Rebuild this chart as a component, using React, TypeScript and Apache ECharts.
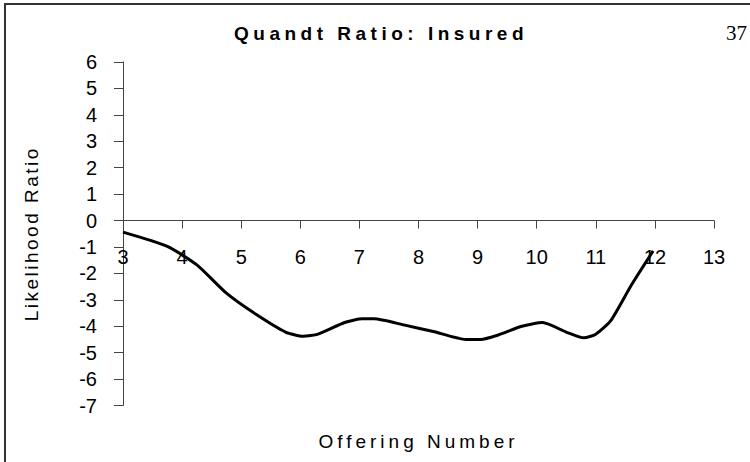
import React, { useEffect, useRef } from "react";
import * as echarts from "echarts";

const TITLE = "Quandt Ratio: Insured";
const PAGE_NUMBER = "37";
const X_NAME = "Offering Number";
const Y_NAME = "Likelihood Ratio";

const offeringNumbers = [3, 3.75, 4.25, 4.75, 5.25, 5.75, 6.05, 6.3, 6.75, 7.05, 7.25, 7.75, 8.25, 8.8, 9.05, 9.35, 9.75, 10.1, 10.5, 10.8, 11.0, 11.25, 11.6, 11.97];
const likelihoodRatios = [-0.44, -0.98, -1.68, -2.75, -3.55, -4.22, -4.38, -4.3, -3.86, -3.72, -3.72, -3.95, -4.2, -4.5, -4.5, -4.33, -4.0, -3.86, -4.22, -4.44, -4.3, -3.8, -2.45, -1.15];

const X_MIN = 3;
const X_MAX = 13;
const Y_MIN = -7;
const Y_MAX = 6;

const FONT = "'Liberation Sans', Arial, sans-serif";

export default function App() {
  const ref = useRef<HTMLDivElement>(null);

  useEffect(() => {
    if (!ref.current) return;
    const chart = echarts.init(ref.current, null, { renderer: "svg" });
    const data = offeringNumbers.map((x, i) => [x, likelihoodRatios[i]]);
    chart.setOption({
      animation: false,
      backgroundColor: "#ffffff",
      title: {
        text: TITLE,
        left: 376,
        top: 19,
        textAlign: "center",
        textStyle: { fontFamily: FONT, fontSize: 19, fontWeight: "bold", color: "#000" },
      },
      graphic: [
        {
          type: "rect",
          shape: { x: 5, y: 4, width: 800, height: 500 },
          style: { fill: "none", stroke: "#333", lineWidth: 2 },
          silent: true,
        },
        {
          type: "text",
          x: 726,
          y: 22,
          style: { text: PAGE_NUMBER, font: "21px 'Liberation Serif', 'Times New Roman', serif", fill: "#000" },
          silent: true,
        },
      ],
      grid: { left: 123, right: 36, top: 62, bottom: 56.5, containLabel: false, outerBoundsMode: "none" },
      xAxis: {
        type: "value",
        min: X_MIN,
        max: X_MAX,
        interval: 1,
        name: X_NAME,
        nameLocation: "middle",
        nameGap: 26,
        nameTextStyle: { fontFamily: FONT, fontSize: 19, color: "#000" },
        axisLine: { onZero: true, lineStyle: { color: "#444", width: 1 } },
        axisTick: { show: true, inside: false, length: 8, lineStyle: { color: "#444" } },
        axisLabel: { fontFamily: FONT, fontSize: 20, color: "#000", margin: -159 },
        splitLine: { show: false },
      },
      yAxis: {
        type: "value",
        min: Y_MIN,
        max: Y_MAX,
        interval: 1,
        name: Y_NAME,
        nameLocation: "middle",
        nameGap: 82,
        nameRotate: 90,
        nameTextStyle: { fontFamily: FONT, fontSize: 19, color: "#000" },
        axisLine: { show: true, onZero: false, lineStyle: { color: "#444", width: 1 } },
        axisTick: { show: true, length: 9, lineStyle: { color: "#444" } },
        axisLabel: { fontFamily: FONT, fontSize: 20, color: "#000", margin: 26 },
        splitLine: { show: false },
      },
      series: [
        {
          type: "line",
          data,
          smooth: 0.2,
          showSymbol: false,
          lineStyle: { color: "#000", width: 3 },
        },
      ],
    });

    const spacing: Record<string, string> = {
      [TITLE]: "4.5",
      [X_NAME]: "4",
      [Y_NAME]: "2.5",
    };
    ref.current.querySelectorAll("text").forEach((t) => {
      const s = t.textContent || "";
      if (spacing[s]) t.setAttribute("letter-spacing", spacing[s]);
    });

    return () => chart.dispose();
  }, []);

  return (
    <div
      ref={ref}
      style={{ position: "absolute", left: 0, top: 0, width: 750, height: 462, background: "#fff" }}
    />
  );
}
